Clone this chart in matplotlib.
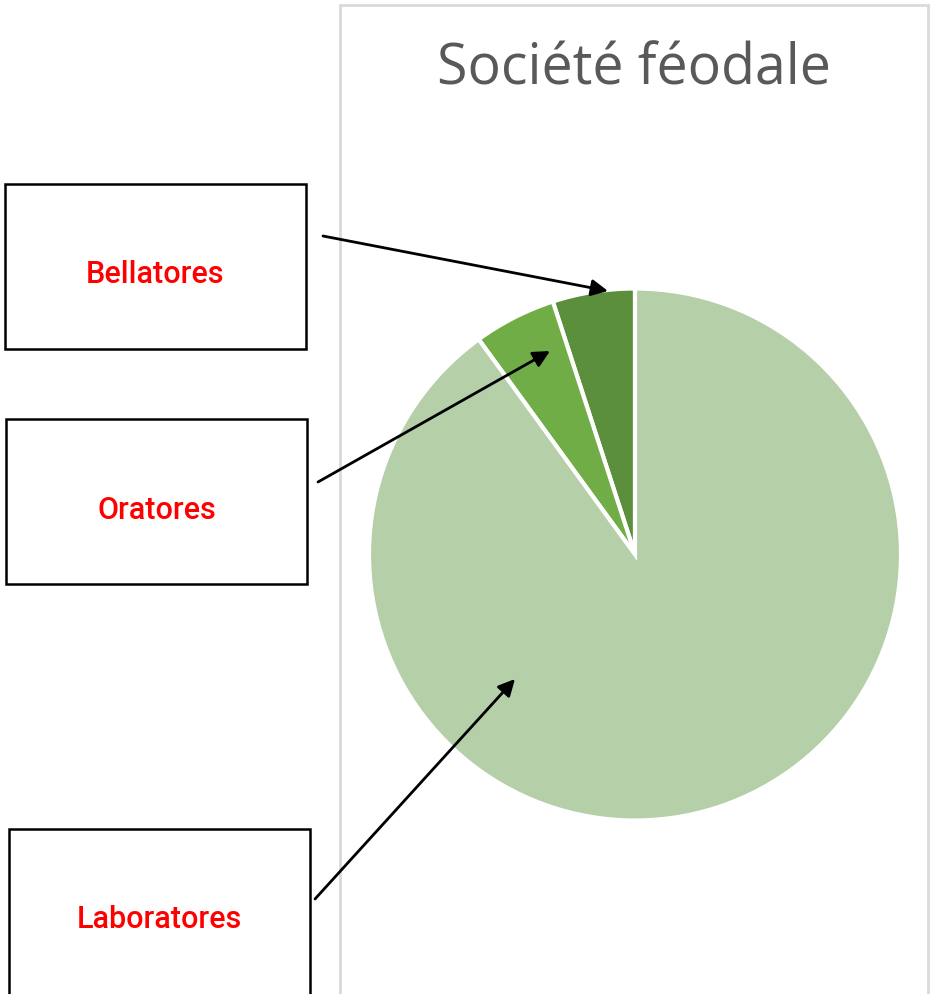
import matplotlib.pyplot as plt
from matplotlib.patches import Rectangle

# data
labels = ["Bellatores", "Oratores", "Laboratores"]
values = [5, 5, 90]
colors = ["#5B8F3B", "#70AD47", "#B5CFA8"]

W, H = 931, 995


def fy(y):
    # pixel row (from top) -> data y (from bottom)
    return H - y


fig = plt.figure(figsize=(W / 100, H / 100), dpi=100)
ax = fig.add_axes([0, 0, 1, 1])
ax.set_xlim(0, W)
ax.set_ylim(0, H)
ax.axis("off")

# chart frame
ax.add_patch(Rectangle((340, fy(1010)), 588, 1004, fill=False,
                       edgecolor="#D9D9D9", lw=2, zorder=0))

ax.pie(values, colors=colors, startangle=90, counterclock=True,
       center=(635, fy(555.5)), radius=266,
       wedgeprops=dict(edgecolor="white", linewidth=3))
ax.set_xlim(0, W)
ax.set_ylim(0, H)
ax.set_aspect("equal")

ax.text(634, fy(70), "Société féodale", ha="center", va="center",
        fontsize=40, color="#595959", family="Open Sans")

# label boxes: (x0, y0, x1, y1) in pixels
boxes = [(5, 185, 306, 350), (6, 420, 307, 585), (9, 830, 310, 1000)]
text_y = [275, 511, 920]
arrows = [((323, 237), (608, 292)),
          ((318, 483), (550, 352)),
          ((315, 900), (515, 680))]

for lab, (x0, y0, x1, y1), ty, (start, end) in zip(labels, boxes, text_y, arrows):
    ax.add_patch(Rectangle((x0, fy(y1)), x1 - x0, y1 - y0, fill=True,
                           facecolor="white", edgecolor="black", lw=1.8))
    ax.text((x0 + x1) / 2, fy(ty), lab, ha="center", va="center",
            fontsize=22, color="red", family="Roboto", fontweight="medium")
    ax.annotate("", xy=(end[0], fy(end[1])), xytext=(start[0], fy(start[1])),
                arrowprops=dict(arrowstyle="-|>", color="black", lw=2,
                                mutation_scale=25, shrinkA=0, shrinkB=0))

fig.savefig("out.png", dpi=100)
